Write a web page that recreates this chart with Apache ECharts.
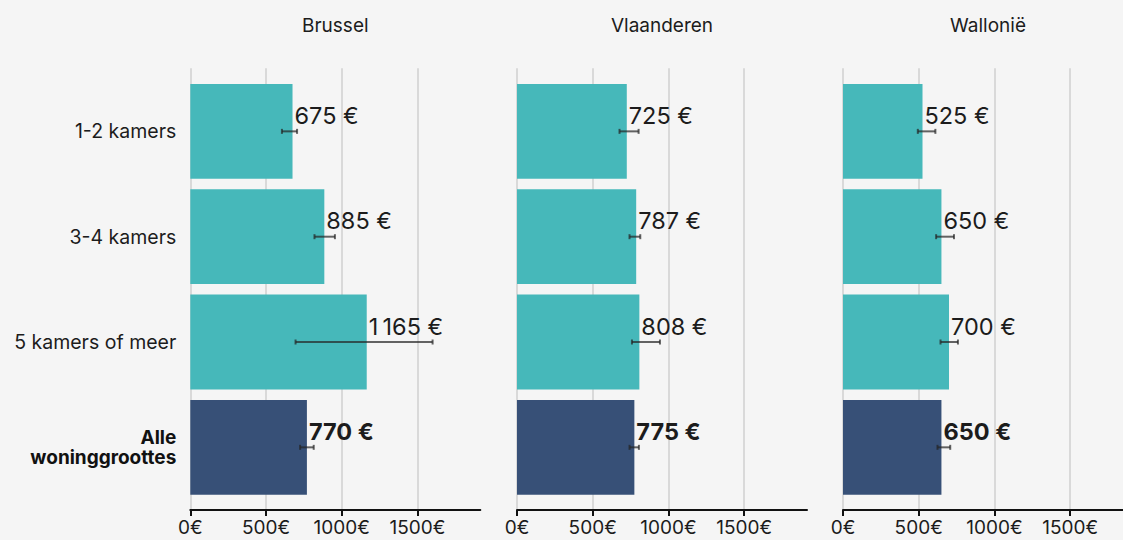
<!DOCTYPE html>
<html>
<head>
<meta charset="utf-8">
<script src="https://cdn.jsdelivr.net/npm/echarts@6/dist/echarts.min.js"></script>
<style>
  html, body { margin: 0; padding: 0; background: #f5f5f5; }
  #chart { width: 1123px; height: 540px; }
</style>
</head>
<body>
<div id="chart"></div>
<script>
// Median monthly rent per dwelling size, with confidence interval, per region
const categories = ['1-2 kamers', '3-4 kamers', '5 kamers of meer', 'Alle woninggroottes'];
const regions = ['Brussel', 'Vlaanderen', 'Wallonië'];

const brusselRent = [675, 885, 1165, 770];
const brusselLow  = [605, 820, 695, 725];
const brusselHigh = [705, 955, 1600, 815];

const vlaanderenRent = [725, 787, 808, 775];
const vlaanderenLow  = [677, 743, 759, 743];
const vlaanderenHigh = [803, 814, 944, 805];

const walloniaRent = [525, 650, 700, 650];
const walloniaLow  = [494, 615, 644, 624];
const walloniaHigh = [610, 733, 759, 708];

const xTicks = [0, 500, 1000, 1500];

const rents = [brusselRent, vlaanderenRent, walloniaRent];
const lows = [brusselLow, vlaanderenLow, walloniaLow];
const highs = [brusselHigh, vlaanderenHigh, walloniaHigh];

// total row is highlighted
const totalIndex = categories.length - 1;

// layout
const FONT = 'Inter, "Noto Sans", sans-serif';
const panelLeft = [190.3, 517, 843];
const plotWidth = 290;
const axisMax = 1915;
const tickStep = xTicks[1] - xTicks[0];
const tickMax = xTicks[xTicks.length - 1];
const barTop = 78.7, barBottom = 500;
const bgTop = 68.3, axisY = 510;

const TEAL = '#46b8ba';
const NAVY = '#375077';
const TEXT = '#1c1c1c';

function euro(v) {
  const s = String(v);
  const grouped = s.length > 3 ? s.slice(0, s.length - 3) + '\u202F' + s.slice(-3) : s;
  return grouped + ' €';
}

const grid = [], xAxis = [], yAxis = [], series = [], graphic = [];

regions.forEach((region, p) => {
  const left = panelLeft[p];
  const bgIdx = p * 2;       // background grid: gridlines, ticks and labels
  const barIdx = p * 2 + 1;  // bar grid

  grid.push({ left: left, top: bgTop, width: plotWidth * tickMax / axisMax, height: axisY - bgTop, outerBoundsMode: 'none' });
  grid.push({ left: left, top: barTop, width: plotWidth, height: barBottom - barTop, outerBoundsMode: 'none' });

  xAxis.push({
    gridIndex: bgIdx, type: 'value', min: xTicks[0], max: tickMax, interval: tickStep,
    axisLine: { show: false },
    axisTick: { show: true, length: 6, lineStyle: { color: '#111', width: 2 } },
    axisLabel: { show: true, margin: 8, fontFamily: FONT, fontSize: 19, lineHeight: 19, color: TEXT, formatter: (v) => v + '€' },
    splitLine: { show: true, lineStyle: { color: '#d9d9d9', width: 2 } }
  });
  yAxis.push({ gridIndex: bgIdx, type: 'value', min: 0, max: 1, show: false });

  xAxis.push({
    gridIndex: barIdx, type: 'value', min: 0, max: axisMax, offset: axisY - barBottom,
    axisLine: { show: true, lineStyle: { color: '#111', width: 2 } },
    axisTick: { show: false }, axisLabel: { show: false }, splitLine: { show: false }
  });
  yAxis.push({
    gridIndex: barIdx, type: 'category', data: categories, inverse: true,
    axisLine: { show: false }, axisTick: { show: false },
    axisLabel: {
      show: p === 0, margin: 14, fontFamily: FONT, fontSize: 19.5, color: TEXT,
      formatter: (v, i) => i === totalIndex ? v.split(' ').map(w => '{b|' + w + '}').join('\n') : v,
      rich: { b: { fontFamily: FONT, fontSize: 19, fontWeight: 'bold', color: '#111', lineHeight: 20, align: 'right' } }
    }
  });

  series.push({
    type: 'bar', xAxisIndex: barIdx, yAxisIndex: barIdx, barCategoryGap: '10%',
    data: rents[p].map((v, i) => ({
      value: v,
      itemStyle: { color: i === totalIndex ? NAVY : TEAL },
      label: { fontWeight: i === totalIndex ? 'bold' : 'normal' }
    })),
    label: {
      show: true, position: 'right', distance: 2, offset: [0, -16],
      fontFamily: FONT, fontSize: 23.5, color: TEXT,
      formatter: (d) => euro(d.value)
    },
    silent: true, z: 2
  });

  series.push({
    type: 'custom', xAxisIndex: barIdx, yAxisIndex: barIdx, z: 3, silent: true,
    data: lows[p].map((lo, i) => [lo, highs[p][i], i]),
    renderItem: (params, api) => {
      const a = api.coord([api.value(0), api.value(2)]);
      const b = api.coord([api.value(1), api.value(2)]);
      const st = { stroke: 'rgba(35,35,35,0.7)', lineWidth: 2 };
      const cap = 2.5;
      return {
        type: 'group',
        children: [
          { type: 'line', shape: { x1: a[0], y1: a[1], x2: b[0], y2: b[1] }, style: st },
          { type: 'line', shape: { x1: a[0], y1: a[1] - cap, x2: a[0], y2: a[1] + cap }, style: st },
          { type: 'line', shape: { x1: b[0], y1: b[1] - cap, x2: b[0], y2: b[1] + cap }, style: st }
        ]
      };
    }
  });

  graphic.push({
    type: 'text', x: left + plotWidth / 2, y: 25,
    style: { text: region, textAlign: 'center', textVerticalAlign: 'middle', font: '19px ' + FONT, fill: TEXT }
  });
});

const chart = echarts.init(document.getElementById('chart'), null, { renderer: 'svg' });
chart.setOption({
  backgroundColor: '#f5f5f5',
  animation: false,
  grid, xAxis, yAxis, series, graphic
});
</script>
</body>
</html>
